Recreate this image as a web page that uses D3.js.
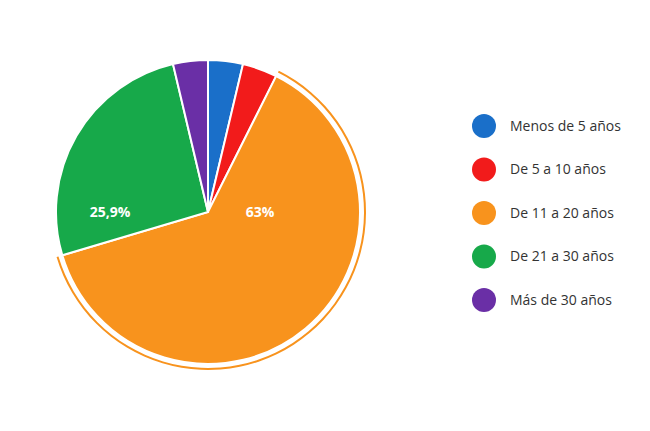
<!DOCTYPE html>
<html><head><meta charset="utf-8">
<script src="https://cdn.jsdelivr.net/npm/d3@7"></script>
<style>body{margin:0;background:#fff}</style></head>
<body><svg id="c" width="650" height="431"></svg>
<script>
const categories=["Menos de 5 años","De 5 a 10 años","De 11 a 20 años","De 21 a 30 años","Más de 30 años"];
const values=[3.7,3.7,63,25.9,3.7];
const labels=["","","63%","25,9%",""];
const colors=["#1a6fc9","#f21b1b","#f8931d","#17a94a","#6a2fa6"];
const svg=d3.select("#c");
const cx=208,cy=212,R=152;
const g=svg.append("g").attr("transform",`translate(${cx},${cy})`);
const pie=d3.pie().sort(null).value(d=>d)(values);
const arc=d3.arc().innerRadius(0).outerRadius(R);
// highlight ring on orange slice
const o=pie[2];
g.append("path").attr("d",d3.arc().innerRadius(R+4).outerRadius(R+6)({startAngle:o.startAngle,endAngle:o.endAngle})).attr("fill",colors[2]);
g.selectAll("path.s").data(pie).join("path").attr("class","s").attr("d",arc)
 .attr("fill",(d,i)=>colors[i]).attr("stroke","#fff").attr("stroke-width",2);
const la=d3.arc().innerRadius(R*0.55).outerRadius(R*0.55);
g.selectAll("text").data(pie).join("text")
 .attr("transform",(d,i)=>{const c=(i==3?d3.arc().innerRadius(R*0.6).outerRadius(R*0.6):d3.arc().innerRadius(R*0.42).outerRadius(R*0.42)).centroid(d);return i==2?`translate(${52},${0})`:`translate(${-98},${0})`;})
 .attr("text-anchor","middle").attr("dy","0.35em").attr("fill","#fff")
 .attr("font-family","Open Sans, sans-serif").attr("font-weight","bold").attr("font-size",14)
 .text((d,i)=>labels[i]);
const y=d3.scalePoint().domain(categories).range([126,300]);
const lg=svg.append("g");
lg.selectAll("circle").data(categories).join("circle").attr("cx",484).attr("cy",d=>y(d)).attr("r",12).attr("fill",(d,i)=>colors[i]);
lg.selectAll("text").data(categories).join("text").attr("x",510).attr("y",d=>y(d)).attr("dy","0.35em")
 .attr("font-family","Open Sans, sans-serif").attr("font-size",14).attr("fill","#333").text(d=>d);
</script></body></html>
